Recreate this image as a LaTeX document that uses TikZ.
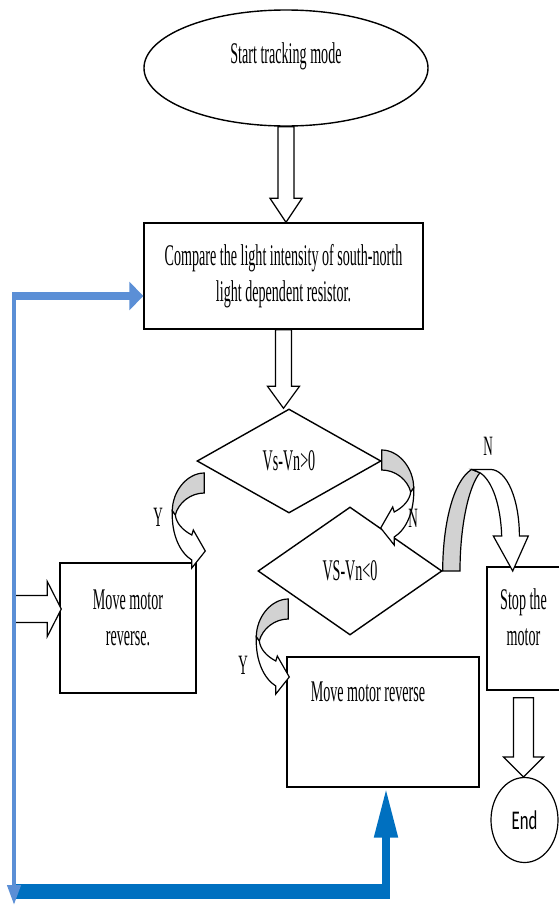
\documentclass[tikz,border=0pt]{standalone}
\usepackage{fontspec}
\setmainfont{Liberation Serif}
\newfontfamily\condserif[FakeStretch=0.47]{Liberation Serif}
\newfontfamily\condsans[FakeStretch=0.62]{Carlito}
\usetikzlibrary{shapes.geometric,calc,arrows.meta}

\definecolor{lightblue}{RGB}{91,143,214}
\definecolor{darkblue}{RGB}{0,112,192}

\tikzset{
  txt/.style={font=\condserif\fontsize{30}{36}\selectfont, align=center},
  lbl/.style={font=\condserif\fontsize{28}{30}\selectfont},
  procbox/.style={draw, line width=1.4pt, rectangle, inner sep=0pt, txt},
  decision/.style={draw, line width=1.4pt, diamond, inner sep=0pt, txt},
  blk/.style={draw, line width=1.2pt, fill=white, line join=miter},
  bendpart/.style={draw, line width=1.2pt, fill=#1},
}

% hollow block arrow pointing down: [gap]{from}{to}{shaft half}{head half}{head length}
\newcommand{\blkdown}[6][0]{
  \draw[blk] ($(#2)+(-#4,#1)$) -- ($(#2|-#3)+(-#4,-#6)$) -- ($(#2|-#3)+(-#5,-#6)$)
    -- (#2|-#3) -- ($(#2|-#3)+(#5,-#6)$) -- ($(#2|-#3)+(#4,-#6)$) -- ($(#2)+(#4,#1)$) -- cycle;
}

% curved arrow, grey back part and white front part
\newcommand{\bentarrow}[2][]{
  \begin{scope}[shift={#2},#1]
    \draw[bendpart=gray!35] (0,0) .. controls (-17,0) and (-32,18) .. (-32,38) -- (-29,42)
      .. controls (-26,30) and (-14,20) .. (0,20) -- cycle;
    \draw[bendpart=white] (-32,38) .. controls (-33,62) and (-24,80) .. (-12.5,87) -- (-12.5,95)
      -- (1,78) -- (-11,57) -- (-12.5,62) .. controls (-22,57) and (-28,50) .. (-29,42) -- cycle;
  \end{scope}
}

\begin{document}
\begin{tikzpicture}[x=1pt,y=-1pt]
  \useasboundingbox (0,0) rectangle (558,905);

  \node[draw, ellipse, line width=1.4pt, minimum width=284pt, minimum height=116pt, inner sep=0pt,
    label={[txt,yshift=12pt]center:Start tracking mode}] (start) at (286,68) {};
  \node[procbox, minimum width=279pt, minimum height=106pt] (cmp) at (283.5,276)
    {Compare the light intensity of south-north\\light dependent resistor.};
  \node[decision, minimum width=184pt, minimum height=104pt] (d1) at (289,461) {Vs-Vn>0};
  \node[decision, minimum width=184pt, minimum height=128pt] (d2) at (350,571) {VS-Vn<0};
  \node[procbox, minimum width=136pt, minimum height=130pt,
    label={[txt,yshift=10pt]center:Move motor\\reverse.}] (mv1) at (128,628) {};
  \node[procbox, minimum width=192pt, minimum height=130pt] (mv2) at (383,722) {};
  \node[txt] (mv2txt) at (368,692) {Move motor reverse};
  \node[procbox, minimum width=73pt, minimum height=123pt,
    label={[txt,yshift=11pt]center:Stop the\\motor}] (stop) at (523.5,628.5) {};
  \node[draw, ellipse, line width=1.2pt, minimum width=67pt, minimum height=85pt, inner sep=0pt,
    font=\condsans\fontsize{27}{30}\selectfont] (endn) at (524.5,820) {End};

  % straight block arrows
  \blkdown{start.south}{cmp.north}{8}{16}{24}
  \blkdown{cmp.south}{d1.north}{8}{16}{22}
  \blkdown[7]{stop.south}{endn.north}{10}{20}{20}

  \coordinate (inL) at (13,609);
  \draw[blk] ($(inL)+(0,-13.5)$) -- ($(inL-|mv1.west)+(-12,-13.5)$) -- ($(inL-|mv1.west)+(-12,-27.5)$)
    -- ($(inL-|mv1.west)+(2,0)$) -- ($(inL-|mv1.west)+(-12,27.5)$) -- ($(inL-|mv1.west)+(-12,13.5)$)
    -- ($(inL)+(0,13.5)$) -- cycle;

  % curved arrows
  \bentarrow{($(d1.west)+(8,12)$)}
  \bentarrow[xscale=-1]{($(d1.east)+(0,-11)$)}
  \bentarrow{($(d2.west)+(31,28)$)}
  \begin{scope}[shift={(d2.east)}]
    \draw[bendpart=gray!35] (0,0) .. controls (0,-45) and (10,-90) .. (29,-101.6) -- (37.3,-98.3)
      .. controls (26,-85) and (17.3,-45) .. (17.3,0) -- cycle;
    \draw[bendpart=white] (29,-101.6) -- (47.3,-101.6) .. controls (65,-101.6) and (76.7,-70) .. (76.7,-35)
      -- (85.6,-35) -- (70,0) -- (50.6,-35) -- (59,-35) .. controls (58,-65) and (50,-90) .. (37.3,-98.3) -- cycle;
  \end{scope}

  \node[lbl] (y1) at (158,517) {Y};
  \node[lbl] (n1) at (413,518) {N};
  \node[lbl] (y2) at (243,665) {Y};
  \node[lbl] (n2) at (488,446) {N};

  % return loop
  \coordinate (retL) at (13,891);
  \coordinate (retR) at (386,891);
  \draw[darkblue, line width=15pt] (retL) -- ($(retR)+(4,0)$);
  \draw[darkblue, line width=8pt, -{Triangle[length=50pt,width=22pt]}] ($(retR)+(0,7)$) -- (mv2.south-|retR);
  \coordinate (fb) at (14,296);
  \draw[lightblue, line width=4pt, -{Triangle[length=20pt,width=13pt]}] ($(fb)+(0,-2)$) -- (14,905);
  \draw[lightblue, line width=8pt, -{Triangle[length=14pt,width=28pt]}] ($(fb)+(-2,0)$) -- (fb-|cmp.west);
\end{tikzpicture}
\end{document}
